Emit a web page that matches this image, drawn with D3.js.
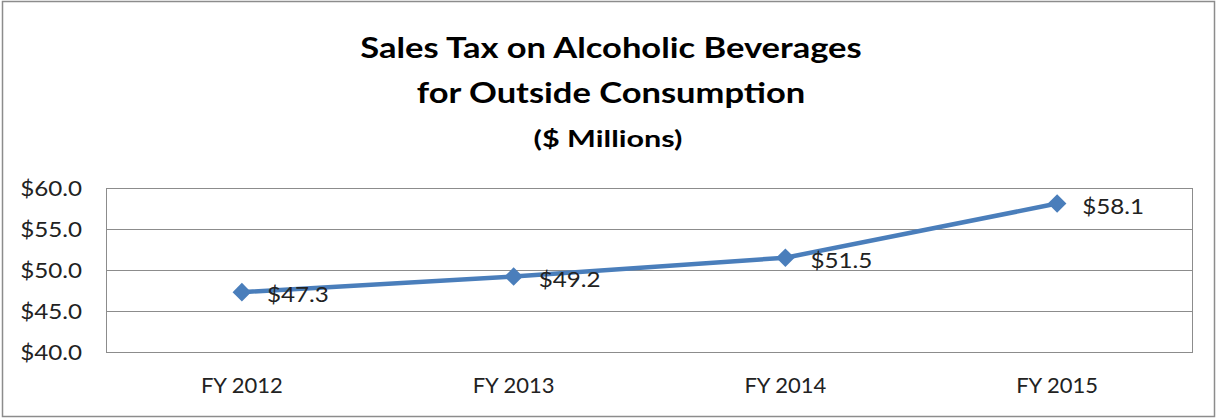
<!DOCTYPE html>
<html><head><meta charset="utf-8">
<script src="https://cdn.jsdelivr.net/npm/d3@7"></script>
<style>body{margin:0;background:#fff}svg{display:block}</style>
</head><body>
<script>
const categories = ["FY 2012", "FY 2013", "FY 2014", "FY 2015"];
const values = [47.3, 49.2, 51.5, 58.1];
const yTicks = [40, 45, 50, 55, 60];
const titleLines = ["Sales Tax on Alcoholic Beverages", "for Outside Consumption"];
const subtitle = "($ Millions)";

const W = 1217, H = 418;
const font = "Lato, 'Open Sans', sans-serif";
const svg = d3.select("body").append("svg").attr("width", W).attr("height", H);
svg.append("rect").attr("x", 2.5).attr("y", 1.5).attr("width", W - 5).attr("height", H - 3)
  .attr("fill", "#fff").attr("stroke", "#8c8c8c").attr("stroke-width", 1.5);

const m = {left: 106, right: 1193, top: 188, bottom: 352};
const x = d3.scaleBand().domain(categories).range([m.left, m.right]);
const y = d3.scaleLinear().domain([40, 60]).range([m.bottom, m.top]);

// title
svg.selectAll("text.title").data(titleLines).enter().append("text")
  .attr("transform", (d, i) => `translate(611,${58 + i * 45}) scale(1.19,1)`)
  .attr("text-anchor", "middle").attr("font-family", font).attr("font-weight", "bold")
  .attr("font-size", 29).attr("fill", "#000").text(d => d);
svg.append("text").attr("transform", "translate(608,147) scale(1.33,1)").attr("text-anchor", "middle")
  .attr("font-family", font).attr("font-weight", "bold").attr("font-size", 23).text(subtitle);

// gridlines
const tsx = 1.1;
const yAxis = d3.axisLeft(y).tickValues(yTicks).tickSize(-(m.right - m.left)).tickFormat(d => "$" + d3.format(".1f")(d));
const ga = svg.append("g").attr("transform", `translate(${m.left},0)`).call(yAxis);
ga.select(".domain").remove();
ga.selectAll(".tick line").attr("stroke", "#8c8c8c").attr("stroke-width", 1);
ga.selectAll(".tick text").attr("x", -24 / tsx).attr("dy", "0.36em").attr("transform", `scale(${tsx},1)`)
  .attr("font-family", font).attr("font-size", 22).attr("fill", "#222");
svg.append("line").attr("x1", m.left + 0.5).attr("x2", m.left + 0.5).attr("y1", m.top).attr("y2", m.bottom)
  .attr("stroke", "#8c8c8c");
svg.append("line").attr("x1", m.right - 0.5).attr("x2", m.right - 0.5).attr("y1", m.top).attr("y2", m.bottom)
  .attr("stroke", "#8c8c8c");

const xAxis = d3.axisBottom(x).tickSize(0);
const gx = svg.append("g").attr("transform", `translate(0,${m.bottom})`).call(xAxis);
gx.select(".domain").remove();
gx.selectAll(".tick text").attr("y", 41).attr("dy", 0).attr("font-family", font).attr("font-size", 22).attr("fill", "#222");

const cx = d => x(d) + x.bandwidth() / 2;
const line = d3.line().x((d, i) => cx(categories[i])).y(d => y(d));
svg.append("path").datum(values).attr("d", line).attr("fill", "none")
  .attr("stroke", "#4a7ebb").attr("stroke-width", 4.5).attr("stroke-linejoin", "round");
const sym = d3.symbol().type(d3.symbolDiamond2).size(220);
svg.selectAll("path.pt").data(values).enter().append("path")
  .attr("transform", (d, i) => `translate(${cx(categories[i])},${y(d)})`)
  .attr("d", sym).attr("fill", "#4a7ebb");
svg.selectAll("text.lbl").data(values).enter().append("text")
  .attr("transform", (d, i) => `translate(${cx(categories[i]) + 25},${y(d) + 10}) scale(1.1,1)`)
  .attr("font-family", font).attr("font-size", 22).attr("fill", "#222")
  .text(d => "$" + d3.format(".1f")(d));
</script>
</body></html>
